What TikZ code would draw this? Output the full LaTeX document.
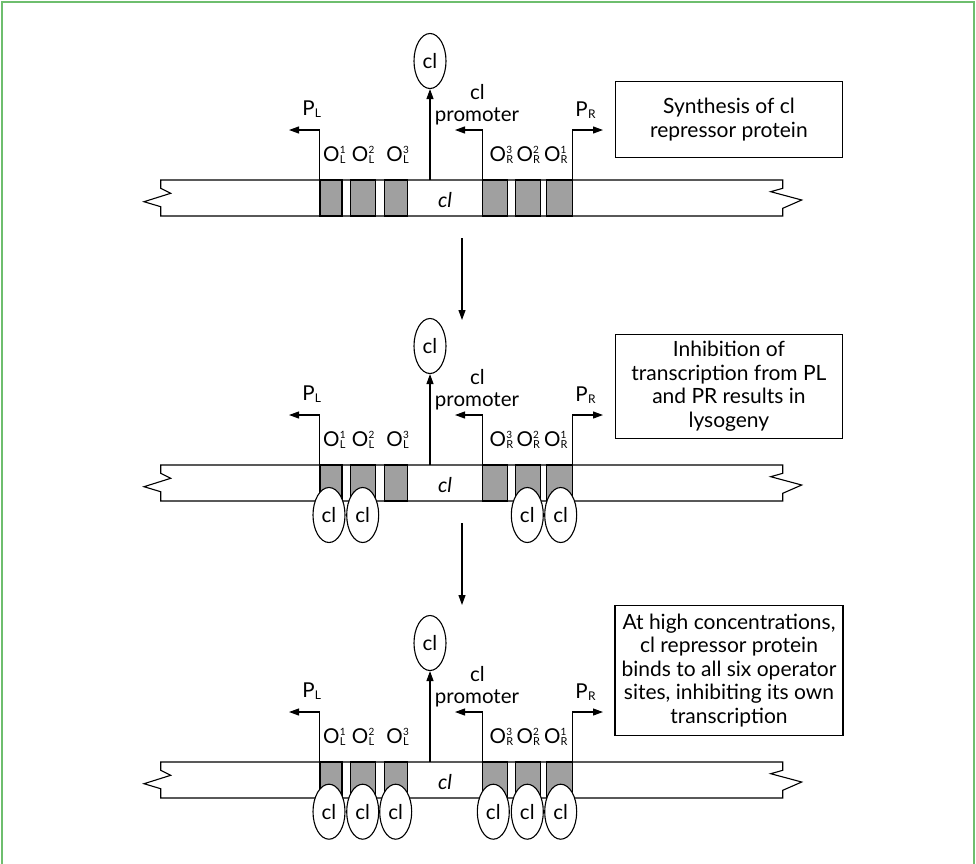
\documentclass[tikz,border=0pt]{standalone}
\usepackage{fontspec}
\setmainfont{Lato}
\usetikzlibrary{arrows.meta,shapes.geometric}
\definecolor{framegreen}{RGB}{110,190,110}
\definecolor{opgray}{RGB}{160,160,160}
\newcommand{\Olab}[2]{O\kern0.3pt\raisebox{-2pt}{\fontsize{11}{11}\selectfont\rlap{\raisebox{10pt}{\fontsize{10}{10}\selectfont #2}}#1}}
\newcommand{\Plab}[1]{P\kern0.3pt\raisebox{-2pt}{\fontsize{12}{12}\selectfont #1}}
\newcommand{\panel}[2]{%
\begin{scope}[yshift=-#1pt]
  \draw[fill=white] (160.7,180) -- (782.7,180) -- (782.7,188.3) -- (770.7,191.7)
     -- (801.7,200) -- (782.7,208.3) -- (782.7,216) -- (160.7,216) -- (160.7,206.7)
     -- (144,201.7) -- (170.7,193.3) -- (160.7,188.3) -- cycle;
  \node[op, minimum width=22pt]   (ol1#2) at (331,198) {};
  \node[op, minimum width=24.6pt] (ol2#2) at (363,198) {};
  \node[op, minimum width=23.3pt] (ol3#2) at (395.7,198) {};
  \node[op, minimum width=25pt]   (or3#2) at (495.2,198) {};
  \node[op, minimum width=24.7pt] (or2#2) at (527.7,198) {};
  \node[op, minimum width=25.6pt] (or1#2) at (559.5,198) {};
  \node[lab] (gene#2) at (445,200) {\itshape cl};
  \coordinate (clb#2) at (430,180);
  \node[prot] (cl#2) at (430,61) {cl};
  \draw[arr] (clb#2) -- (cl#2.south);
  \coordinate (plt#2) at (289,130);
  \draw[arr] (ol1#2.north west) |- (plt#2);
  \node[lab, anchor=base] (pl#2) at (311.7,115) {\Plab{L}};
  \coordinate (cpt#2) at (455,130);
  \draw[arr] (or3#2.north west) |- (cpt#2);
  \node[lab, anchor=base] (cpa#2) at (477.5,99.3) {cl};
  \node[lab, anchor=base] (cpb#2) at (477,121.7) {promoter};
  \coordinate (prt#2) at (603,130);
  \draw[arr] (or1#2.north east) |- (prt#2);
  \node[lab, anchor=base] (pr#2) at (585.5,116) {\Plab{R}};
  \node[lab, anchor=base] (tol1#2) at (334.3,161.7) {\Olab{L}{1}};
  \node[lab, anchor=base] (tol2#2) at (363,161.7) {\Olab{L}{2}};
  \node[lab, anchor=base] (tol3#2) at (397.5,161.7) {\Olab{L}{3}};
  \node[lab, anchor=base] (tor3#2) at (501.5,161.7) {\Olab{R}{3}};
  \node[lab, anchor=base] (tor2#2) at (528.3,161.7) {\Olab{R}{2}};
  \node[lab, anchor=base] (tor1#2) at (555.8,161.7) {\Olab{R}{1}};
\end{scope}}
\begin{document}
\begin{tikzpicture}[x=1pt,y=-1pt,line width=1.1pt,
  lab/.style={inner sep=0pt,font=\fontsize{20.5}{23.5}\selectfont},
  op/.style={draw,fill=opgray,rectangle,minimum height=36pt,inner sep=0pt},
  prot/.style={draw,fill=white,ellipse,minimum width=32pt,minimum height=55pt,inner sep=0pt,font=\fontsize{20.5}{23.5}\selectfont},
  arr/.style={-{Triangle[length=10pt,width=7pt]}},
  txtbox/.style={draw,rectangle,inner sep=0pt,align=center,font=\fontsize{21}{23.6}\selectfont}]
\useasboundingbox (0,0) rectangle (976,863);
\draw[framegreen,line width=1.5pt] (2,870) -- (2,2) -- (974,2) -- (974,870);

\panel{0}{a}
\panel{285}{b}
\panel{582}{c}

% bound repressors, panel 2
\node[prot] (b1) at (329,515) {cl};
\node[prot] (b2) at (362.7,515) {cl};
\node[prot] (b3) at (527.3,515) {cl};
\node[prot] (b4) at (560.7,515) {cl};
% bound repressors, panel 3
\node[prot] (c1) at (329,811.7) {cl};
\node[prot] (c2) at (362.7,811.7) {cl};
\node[prot] (c3) at (395.7,811.7) {cl};
\node[prot] (c4) at (493.3,811.7) {cl};
\node[prot] (c5) at (527.3,811.7) {cl};
\node[prot] (c6) at (560.7,811.7) {cl};

\node[txtbox,minimum width=227.7pt,minimum height=76pt] (box1) at (728.9,119.7)
  {Synthesis of cl\\repressor protein};
\node[txtbox,minimum width=227.7pt,minimum height=104.3pt] (box2) at (728.9,386.2)
  {Inhibition of\\transcription from PL\\and PR results in\\lysogeny};
\node[txtbox,minimum width=228pt,minimum height=129.3pt] (box3) at (729,670.4)
  {At high concentrations,\\cl repressor protein\\binds to all six operator\\sites, inhibiting its own\\transcription};

\coordinate (s1) at (462,238);
\coordinate (e1) at (462,320);
\draw[arr] (s1) -- (e1);
\coordinate (s2) at (462,523);
\coordinate (e2) at (462,605);
\draw[arr] (s2) -- (e2);
\end{tikzpicture}
\end{document}
